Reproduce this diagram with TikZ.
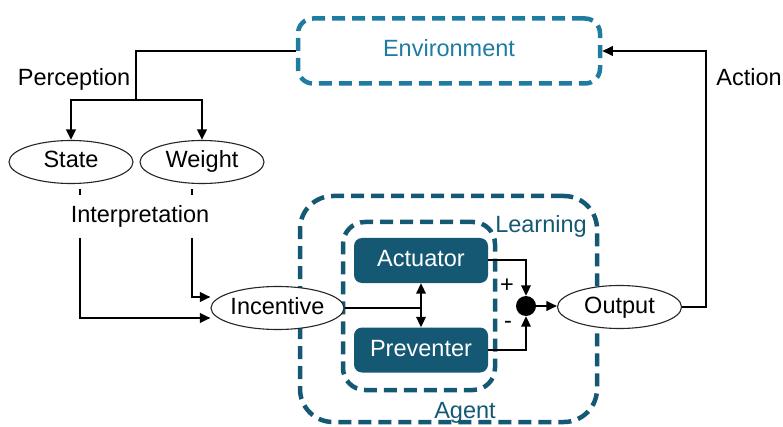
\documentclass[tikz,border=0pt]{standalone}
\usepackage{fontspec}
\setmainfont{Liberation Sans}
\usetikzlibrary{arrows.meta,shapes.geometric}
\definecolor{envblue}{RGB}{30,124,160}
\definecolor{agentblue}{RGB}{20,88,116}
\begin{document}
\begin{tikzpicture}[x=1pt,y=-1pt,
  >={Triangle[length=10.5pt,width=9.5pt]},
  every node/.style={font=\fontsize{23.5}{28}\selectfont, inner sep=0pt},
  oval/.style={ellipse, draw=black!85, line width=1.1pt, fill=white,
    minimum width=124pt, minimum height=43pt, text height=16.5pt, text depth=4.5pt},
  unit/.style={rectangle, rounded corners=8pt, fill=agentblue, text=white,
    minimum width=134pt, minimum height=45pt, text height=16.5pt, text depth=4.5pt},
  frame/.style={rectangle, line width=4.5pt, dash pattern=on 13pt off 7pt},
  wire/.style={line width=2pt, ->},
  plain/.style={line width=2pt},
  caption/.style={anchor=base},
]
\useasboundingbox (0,0) rectangle (783,427);

% dashed frames
\node[frame, draw=envblue, text=envblue, rounded corners=15pt,
  minimum width=302pt, minimum height=65pt, text height=16.5pt, text depth=4.5pt]
  (env) at (449,51) {Environment};
\node[frame, draw=agentblue, rounded corners=33pt,
  minimum width=297pt, minimum height=226pt] (agent) at (448.5,309) {};
\node[frame, draw=agentblue, rounded corners=22pt,
  minimum width=152pt, minimum height=168pt] (learn) at (419,306) {};

% frame captions
\node[caption, text=agentblue] (learnlbl) at (541,233) {Learning};
\node[caption, text=agentblue] (agentlbl) at (465,418) {Agent};

% perception stage
\node[oval] (state) at (71,162) {State};
\node[oval] (weight) at (202,162) {Weight};
\coordinate (split) at (136,100);
\draw[plain, line width=2.4pt] (env.west) -| (split);
\draw[wire, line width=2.4pt] (split) -| (state.north);
\draw[wire, line width=2.4pt] (split) -| (weight.north);
\node[caption] (perc) at (74,86) {Perception};

% interpretation stage
\node[oval] (inc) at (277.5,308) {Incentive};
\coordinate (sfoot) at (80,189);
\coordinate (wfoot) at (192,189);
\draw[wire] (sfoot) |- ([yshift=-10pt]inc.west);
\draw[wire] (wfoot) |- ([yshift=11pt]inc.west);
\node[fill=white, inner xsep=2pt, inner ysep=11pt,
  text height=16.5pt, text depth=4.5pt] (interp) at (140,217) {Interpretation};

% learning block
\node[unit] (act) at (421,260.5) {Actuator};
\node[unit] (prev) at (421,350) {Preventer};
\draw[plain] (inc.east) -- (inc.east -| act.south);
\draw[line width=2pt, <->] (act.south) -- (prev.north);

% summing junction and output
\node[circle, fill=black, minimum size=20pt] (sum) at (526,306) {};
\node[oval] (out) at (619.5,307) {Output};
\draw[wire] (act.east) -| (sum.north);
\draw[wire] (prev.east) -| (sum.south);
\draw[wire] (sum.east) -- (sum.east -| out.west);
\node (plus) at (507,286) {+};
\node (minus) at (508,325) {-};

% action back to the environment
\coordinate (turn) at (706,0);
\draw[wire] (out.east) -- (out.east -| turn) -- (turn |- env.east) -- (env.east);
\node[caption] (act lbl) at (749,86) {Action};
\end{tikzpicture}
\end{document}
